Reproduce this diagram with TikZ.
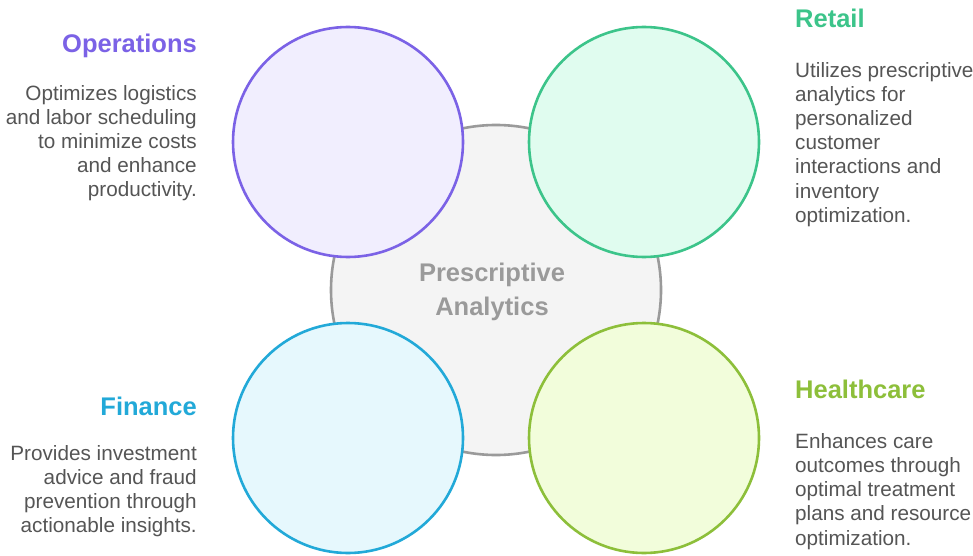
\documentclass[tikz,border=0pt]{standalone}
\usepackage{fontspec}
\setmainfont{Liberation Sans}
\definecolor{opline}{HTML}{7B62E6}
\definecolor{opfill}{HTML}{F1EEFE}
\definecolor{rtline}{HTML}{3CC48A}
\definecolor{rtfill}{HTML}{E0FCEF}
\definecolor{fnline}{HTML}{22A9D8}
\definecolor{fnfill}{HTML}{E6F8FD}
\definecolor{hcline}{HTML}{8DBF3A}
\definecolor{hcfill}{HTML}{F2FDDB}
\definecolor{ctline}{HTML}{9A9A9A}
\definecolor{ctfill}{HTML}{F4F4F4}
\definecolor{bodytext}{HTML}{555555}
\begin{document}
\begin{tikzpicture}[x=1pt,y=-1pt,
  ring/.style={circle,line width=2.6pt,minimum size=230pt,inner sep=0pt},
  ttl/.style={font=\fontsize{25.5}{30}\selectfont\bfseries,inner sep=0pt},
  body/.style={font=\fontsize{20.7}{24.2}\selectfont,text=bodytext,inner sep=0pt}]
\useasboundingbox[fill=white] (0,0) rectangle (973,556);
\node[circle,draw=ctline,fill=ctfill,line width=2.6pt,minimum size=330pt,inner sep=0pt] (center) at (496,290) {};
\node[ring,draw=opline,fill=opfill] (ops) at (348,142) {};
\node[ring,draw=rtline,fill=rtfill] (ret) at (644,142) {};
\node[ring,draw=fnline,fill=fnfill] (fin) at (348,438) {};
\node[ring,draw=hcline,fill=hcfill] (hc) at (644,438) {};
\node[font=\fontsize{25.5}{34}\selectfont\bfseries,text=ctline,align=center,inner sep=0pt,anchor=north] (ctext) at (492,263) {Prescriptive\\Analytics};
\node[ttl,text=opline,anchor=base east] (opt) at (197,53) {Operations};
\node[body,align=right,anchor=north east] (opb) at (197,85) {Optimizes logistics\\and labor scheduling\\to minimize costs\\and enhance\\productivity.};
\node[ttl,text=rtline,anchor=base west] (rtt) at (795,28) {Retail};
\node[body,align=left,anchor=north west] (rtb) at (795,62) {Utilizes prescriptive\\analytics for\\personalized\\customer\\interactions and\\inventory\\optimization.};
\node[ttl,text=fnline,anchor=base east] (fnt) at (197,415) {Finance};
\node[body,align=right,anchor=north east] (fnb) at (197,445) {Provides investment\\advice and fraud\\prevention through\\actionable insights.};
\node[ttl,text=hcline,anchor=base west] (hct) at (795,398) {Healthcare};
\node[body,align=left,anchor=north west] (hcb) at (795,433) {Enhances care\\outcomes through\\optimal treatment\\plans and resource\\optimization.};
\end{tikzpicture}
\end{document}
